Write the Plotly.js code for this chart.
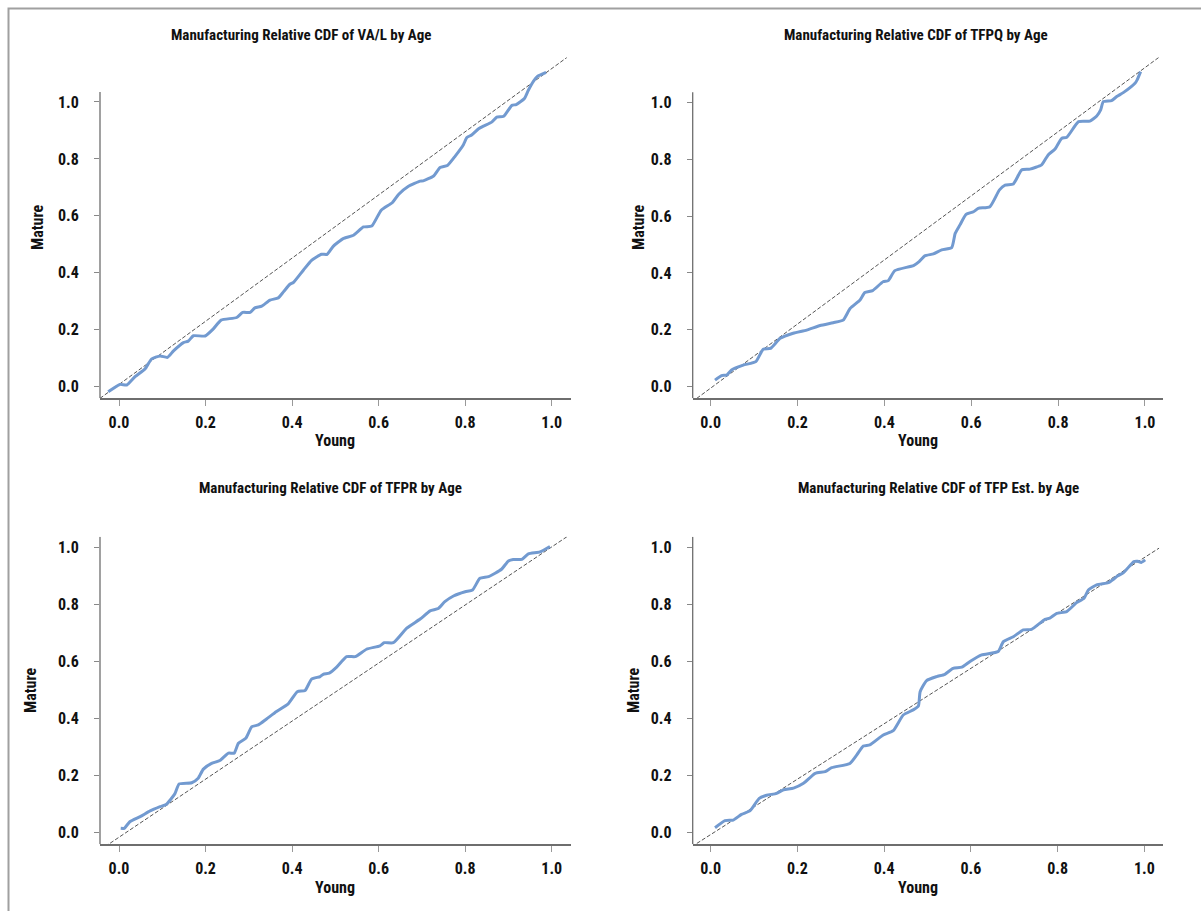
<!DOCTYPE html>
<html>
<head>
<meta charset="utf-8">
<script src="https://cdn.plot.ly/plotly-3.0.1.min.js"></script>
<style>html,body{margin:0;padding:0;background:#fff;}#chart{width:1201px;height:911px;}</style>
</head>
<body>
<div id="chart"></div>
<script>
// ---------- DATA ----------
const titles = [
  "Manufacturing Relative CDF of VA/L by Age",
  "Manufacturing Relative CDF of TFPQ by Age",
  "Manufacturing Relative CDF of TFPR by Age",
  "Manufacturing Relative CDF of TFP Est. by Age"
];
const xTitle = "Young";
const yTitle = "Mature";
const tickVals = [0, 0.2, 0.4, 0.6, 0.8, 1.0];
const tickText = ["0.0", "0.2", "0.4", "0.6", "0.8", "1.0"];

// VA/L
const valX = [-0.025,0.002,0.018,0.037,0.06,0.075,0.095,0.112,0.126,0.149,0.16,0.172,0.199,0.218,0.236,0.272,0.286,0.303,0.314,0.33,0.349,0.368,0.38,0.395,0.403,0.426,0.445,0.468,0.481,0.495,0.518,0.542,0.565,0.584,0.606,0.632,0.646,0.669,0.696,0.703,0.727,0.742,0.759,0.777,0.796,0.804,0.815,0.831,0.842,0.862,0.873,0.889,0.908,0.918,0.937,0.946,0.958,0.967,0.987];
const valY = [-0.018,0.008,0.006,0.035,0.062,0.097,0.108,0.103,0.126,0.155,0.16,0.179,0.178,0.203,0.234,0.243,0.261,0.261,0.277,0.283,0.304,0.312,0.333,0.36,0.366,0.409,0.444,0.465,0.465,0.493,0.52,0.532,0.561,0.564,0.62,0.647,0.675,0.704,0.722,0.723,0.74,0.77,0.777,0.81,0.85,0.875,0.884,0.906,0.915,0.93,0.947,0.95,0.988,0.991,1.012,1.041,1.073,1.09,1.104];

// TFPQ
const tfpqX = [0.01,0.025,0.037,0.048,0.075,0.104,0.121,0.138,0.16,0.19,0.221,0.252,0.282,0.305,0.321,0.344,0.355,0.373,0.397,0.409,0.424,0.467,0.48,0.493,0.513,0.532,0.555,0.563,0.574,0.588,0.605,0.616,0.643,0.665,0.678,0.697,0.716,0.735,0.762,0.777,0.793,0.808,0.82,0.847,0.873,0.889,0.898,0.904,0.923,0.935,0.95,0.977,0.982,0.99];
const tfpqY = [0.023,0.039,0.041,0.059,0.076,0.088,0.132,0.135,0.17,0.188,0.199,0.215,0.225,0.234,0.275,0.305,0.331,0.338,0.369,0.373,0.408,0.426,0.44,0.46,0.467,0.481,0.489,0.539,0.569,0.606,0.615,0.627,0.633,0.692,0.709,0.713,0.762,0.765,0.78,0.815,0.836,0.873,0.877,0.932,0.934,0.952,0.973,1.002,1.006,1.02,1.034,1.067,1.079,1.108];

// TFPR
const tfprX = [0.004,0.012,0.025,0.049,0.072,0.095,0.109,0.129,0.139,0.168,0.183,0.195,0.214,0.233,0.253,0.266,0.276,0.293,0.307,0.322,0.341,0.364,0.391,0.412,0.43,0.445,0.465,0.472,0.486,0.503,0.526,0.546,0.572,0.603,0.613,0.634,0.665,0.696,0.719,0.738,0.753,0.773,0.8,0.817,0.834,0.854,0.884,0.9,0.911,0.931,0.946,0.973,0.996];
const tfprY = [0.014,0.014,0.037,0.055,0.075,0.09,0.098,0.135,0.17,0.174,0.19,0.222,0.242,0.252,0.278,0.278,0.313,0.33,0.371,0.377,0.398,0.424,0.451,0.494,0.498,0.538,0.547,0.555,0.559,0.58,0.617,0.617,0.643,0.655,0.666,0.666,0.717,0.749,0.778,0.786,0.81,0.83,0.845,0.851,0.892,0.898,0.924,0.953,0.958,0.959,0.978,0.985,1.004];

// TFP Est.
const tfpeX = [0.01,0.033,0.052,0.071,0.091,0.112,0.129,0.152,0.168,0.191,0.214,0.241,0.264,0.279,0.321,0.337,0.352,0.367,0.398,0.421,0.444,0.467,0.479,0.483,0.498,0.521,0.54,0.559,0.579,0.598,0.625,0.663,0.675,0.698,0.721,0.74,0.771,0.782,0.798,0.821,0.844,0.861,0.871,0.89,0.917,0.929,0.938,0.952,0.976,0.985,0.993,1.002];
const tfpeY = [0.016,0.041,0.043,0.063,0.076,0.119,0.13,0.137,0.149,0.155,0.172,0.207,0.213,0.227,0.242,0.272,0.303,0.307,0.342,0.357,0.412,0.43,0.444,0.494,0.533,0.547,0.555,0.576,0.58,0.6,0.623,0.635,0.67,0.687,0.711,0.713,0.748,0.752,0.769,0.775,0.807,0.822,0.851,0.869,0.877,0.889,0.9,0.912,0.951,0.952,0.948,0.957];

// Reference (dashed) lines, endpoints per panel
const refX = [[-0.044, 1.035], [-0.032, 1.032], [-0.032, 1.035], [-0.032, 1.034]];
const refY = [[-0.041, 1.156], [-0.041, 1.158], [-0.05, 1.038], [-0.039, 0.998]];

const seriesX = [valX, tfpqX, tfprX, tfpeX];
const seriesY = [valY, tfpqY, tfprY, tfpeY];

// ---------- LAYOUT (pixel geometry) ----------
const W = 1201, H = 911;
const FONT = "'Roboto Condensed', 'DejaVu Sans Condensed', 'Liberation Sans Narrow', 'Arial Narrow', sans-serif";
const panels = [
  {xd:[100,571],   yd:[57.3,398.3],  xr:[-0.0439,1.0446], yr:[-0.0407,1.1568], ylineTop:1.035,
   title:[301,35],  ytl:[38,227],  xtl:[335,441]},
  {xd:[692.7,1163.3], yd:[57.3,398.3], xr:[-0.0414,1.0422], yr:[-0.0408,1.1582], ylineTop:1.035,
   title:[916,35],  ytl:[639,227], xtl:[918,441]},
  {xd:[100,571],   yd:[536.7,844.3], xr:[-0.0439,1.0446], yr:[-0.0421,1.0383], ylineTop:1.0383,
   title:[330,488], ytl:[30,690],  xtl:[335,887]},
  {xd:[692.7,1163.3], yd:[536.7,844.3], xr:[-0.0415,1.0438], yr:[-0.0421,1.0383], ylineTop:1.0383,
   title:[939,488], ytl:[633,690], xtl:[918,887]}
];

const traces = [];
const layout = {
  width: W, height: H,
  margin: {l:0, r:0, t:0, b:0},
  paper_bgcolor: "#ffffff", plot_bgcolor: "#ffffff",
  showlegend: false,
  font: {family: FONT, size: 16, color: "#111", weight: "bold"},
  annotations: [], shapes: []
};

const axColor = "#6e6e6e";
panels.forEach((p, i) => {
  const n = i === 0 ? "" : String(i + 1);
  const xa = "x" + n, ya = "y" + n;
  traces.push({
    x: refX[i], y: refY[i], xaxis: xa, yaxis: ya, mode: "lines", type: "scatter",
    line: {color: "#555555", width: 1, dash: "4px,2px"}, hoverinfo: "skip", cliponaxis: false
  });
  traces.push({
    x: seriesX[i], y: seriesY[i], xaxis: xa, yaxis: ya, mode: "lines", type: "scatter",
    line: {color: "#729ad0", width: 3, shape: "spline", smoothing: 0.5}, cliponaxis: false
  });
  layout["xaxis" + n] = {
    domain: [p.xd[0] / W, p.xd[1] / W], range: p.xr, anchor: ya,
    showgrid: false, zeroline: false, showline: true, linecolor: axColor, linewidth: 1.3,
    ticks: "outside", ticklen: 6, tickwidth: 1, tickcolor: "#999",
    tickvals: tickVals, ticktext: tickText, ticklabelstandoff: 3,
    tickfont: {family: FONT, size: 16, color: "#111", weight: "bold"}, fixedrange: true
  };
  layout["yaxis" + n] = {
    domain: [1 - p.yd[1] / H, 1 - p.yd[0] / H], range: p.yr, anchor: xa,
    showgrid: false, zeroline: false, showline: false,
    ticks: "outside", ticklen: 5, tickwidth: 1, tickcolor: "#888",
    tickvals: tickVals, ticktext: tickText, ticklabelstandoff: 12,
    tickfont: {family: FONT, size: 16, color: "#111", weight: "bold"}, fixedrange: true
  };
  layout.shapes.push({
    type: "line", xref: xa + " domain", yref: ya, x0: 0, x1: 0, y0: p.yr[0], y1: p.ylineTop,
    line: {color: axColor, width: 1.3}
  });
  layout.annotations.push({
    text: titles[i], xref: "paper", yref: "paper", x: p.title[0] / W, y: 1 - p.title[1] / H,
    xanchor: "center", yanchor: "middle", showarrow: false,
    font: {family: FONT, size: 15, color: "#111", weight: "bold"}
  });
  layout.annotations.push({
    text: yTitle, xref: "paper", yref: "paper", x: p.ytl[0] / W, y: 1 - p.ytl[1] / H,
    xanchor: "center", yanchor: "middle", textangle: -90, showarrow: false,
    font: {family: FONT, size: 16, color: "#111", weight: "bold"}
  });
  layout.annotations.push({
    text: xTitle, xref: "paper", yref: "paper", x: p.xtl[0] / W, y: 1 - p.xtl[1] / H,
    xanchor: "center", yanchor: "middle", showarrow: false,
    font: {family: FONT, size: 16, color: "#111", weight: "bold"}
  });
});

// outer frame (left and top edges visible)
layout.shapes.push({
  type: "rect", xref: "paper", yref: "paper", x0: 8.5 / W, x1: 1.05, y0: -0.05, y1: 1 - 8.5 / H,
  line: {color: "#a0a0a0", width: 2}, layer: "below"
});

Plotly.newPlot("chart", traces, layout, {staticPlot: true, displayModeBar: false});
</script>
</body>
</html>
